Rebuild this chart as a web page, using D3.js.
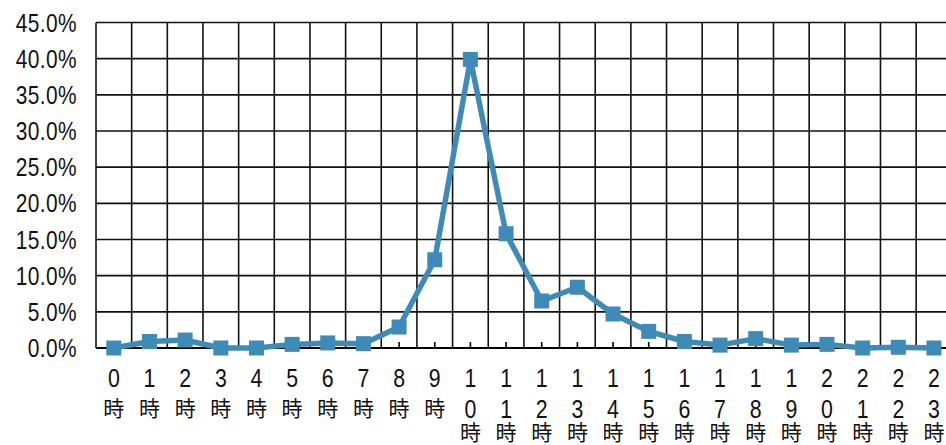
<!DOCTYPE html>
<html><head><meta charset="utf-8">
<script src="https://cdn.jsdelivr.net/npm/d3@7"></script>
<style>html,body{margin:0;padding:0;background:#fff;overflow:hidden}</style>
</head><body>
<svg id="chart" width="946" height="445"></svg>
<script>
const categories = ["0時","1時","2時","3時","4時","5時","6時","7時","8時","9時","10時","11時","12時","13時","14時","15時","16時","17時","18時","19時","20時","21時","22時","23時"];
const values = [0.0,0.9,1.1,0.0,0.0,0.5,0.7,0.6,2.9,12.2,39.9,15.8,6.5,8.4,4.7,2.3,0.9,0.4,1.3,0.4,0.5,0.0,0.1,0.0];
const yTicks = [0,5,10,15,20,25,30,35,40,45];
const yTickLabels = ["0.0%","5.0%","10.0%","15.0%","20.0%","25.0%","30.0%","35.0%","40.0%","45.0%"];

(function(){
const svg = d3.select("#chart");
const pL = 96, pR = 951.8, pT = 22.5, pB = 348;
const x = d3.scaleBand().domain(categories).range([pL, pR]).padding(0);
const y = d3.scaleLinear().domain([0, 45]).range([pB, pT]);
const color = "#3F8BB8";
const sx = 0.82;
const numFont = "'Liberation Sans', Arial, sans-serif";
const cjkFont = "'Noto Sans CJK JP', sans-serif";

// horizontal grid
svg.append("g").selectAll("line").data(yTicks).join("line")
  .attr("x1", pL).attr("x2", pR)
  .attr("y1", d => y(d)).attr("y2", d => y(d))
  .attr("stroke", "#111").attr("stroke-width", 1.6);
// vertical grid
svg.append("g").selectAll("line").data(categories.concat(["__end"])).join("line")
  .attr("x1", (d,i) => i < categories.length ? x(d) : pR)
  .attr("x2", (d,i) => i < categories.length ? x(d) : pR)
  .attr("y1", pT).attr("y2", pB)
  .attr("stroke", "#111").attr("stroke-width", 1.6);
// bottom axis
svg.append("line").attr("x1", pL).attr("x2", pR).attr("y1", pB).attr("y2", pB)
  .attr("stroke", "#000").attr("stroke-width", 2);
// inward ticks at category centers
svg.append("g").selectAll("line").data(categories).join("line")
  .attr("x1", d => x(d) + x.bandwidth()/2).attr("x2", d => x(d) + x.bandwidth()/2)
  .attr("y1", pB).attr("y2", pB - 6)
  .attr("stroke", "#000").attr("stroke-width", 1.6);

// y labels
svg.append("g").selectAll("text").data(yTicks).join("text")
  .attr("transform", d => `translate(77,${y(d) + 9}) scale(${sx},1)`)
  .attr("text-anchor", "end")
  .attr("font-family", numFont)
  .attr("font-size", 25.5).attr("fill", "#111")
  .attr("letter-spacing", 0.5)
  .text((d,i) => yTickLabels[i]);

// x labels: stacked characters
const xl = svg.append("g");
categories.forEach(c => {
  const cx = x(c) + x.bandwidth()/2;
  const chars = Array.from(c);
  const nd = chars.length - 1;
  for (let j = 0; j < nd; j++) {
    xl.append("text")
      .attr("transform", `translate(${cx},${387 + j*31}) scale(${sx},1)`)
      .attr("text-anchor", "middle")
      .attr("font-family", numFont)
      .attr("font-size", 26).attr("fill", "#111").text(chars[j]);
  }
  xl.append("text")
    .attr("x", cx).attr("y", nd === 1 ? 416 : 440)
    .attr("text-anchor", "middle")
    .attr("font-family", cjkFont)
    .attr("font-size", 21).attr("fill", "#111").text(chars[nd]);
});

// line
const line = d3.line().x((d,i) => x(categories[i]) + x.bandwidth()/2).y(d => y(d));
svg.append("path").datum(values).attr("d", line)
  .attr("fill", "none").attr("stroke", color).attr("stroke-width", 5.5).attr("stroke-linejoin", "round");
// markers
svg.append("g").selectAll("rect").data(values).join("rect")
  .attr("x", (d,i) => x(categories[i]) + x.bandwidth()/2 - 7.5)
  .attr("y", d => y(d) - 7.5)
  .attr("width", 15).attr("height", 15)
  .attr("fill", color);
})();
</script>
</body></html>
